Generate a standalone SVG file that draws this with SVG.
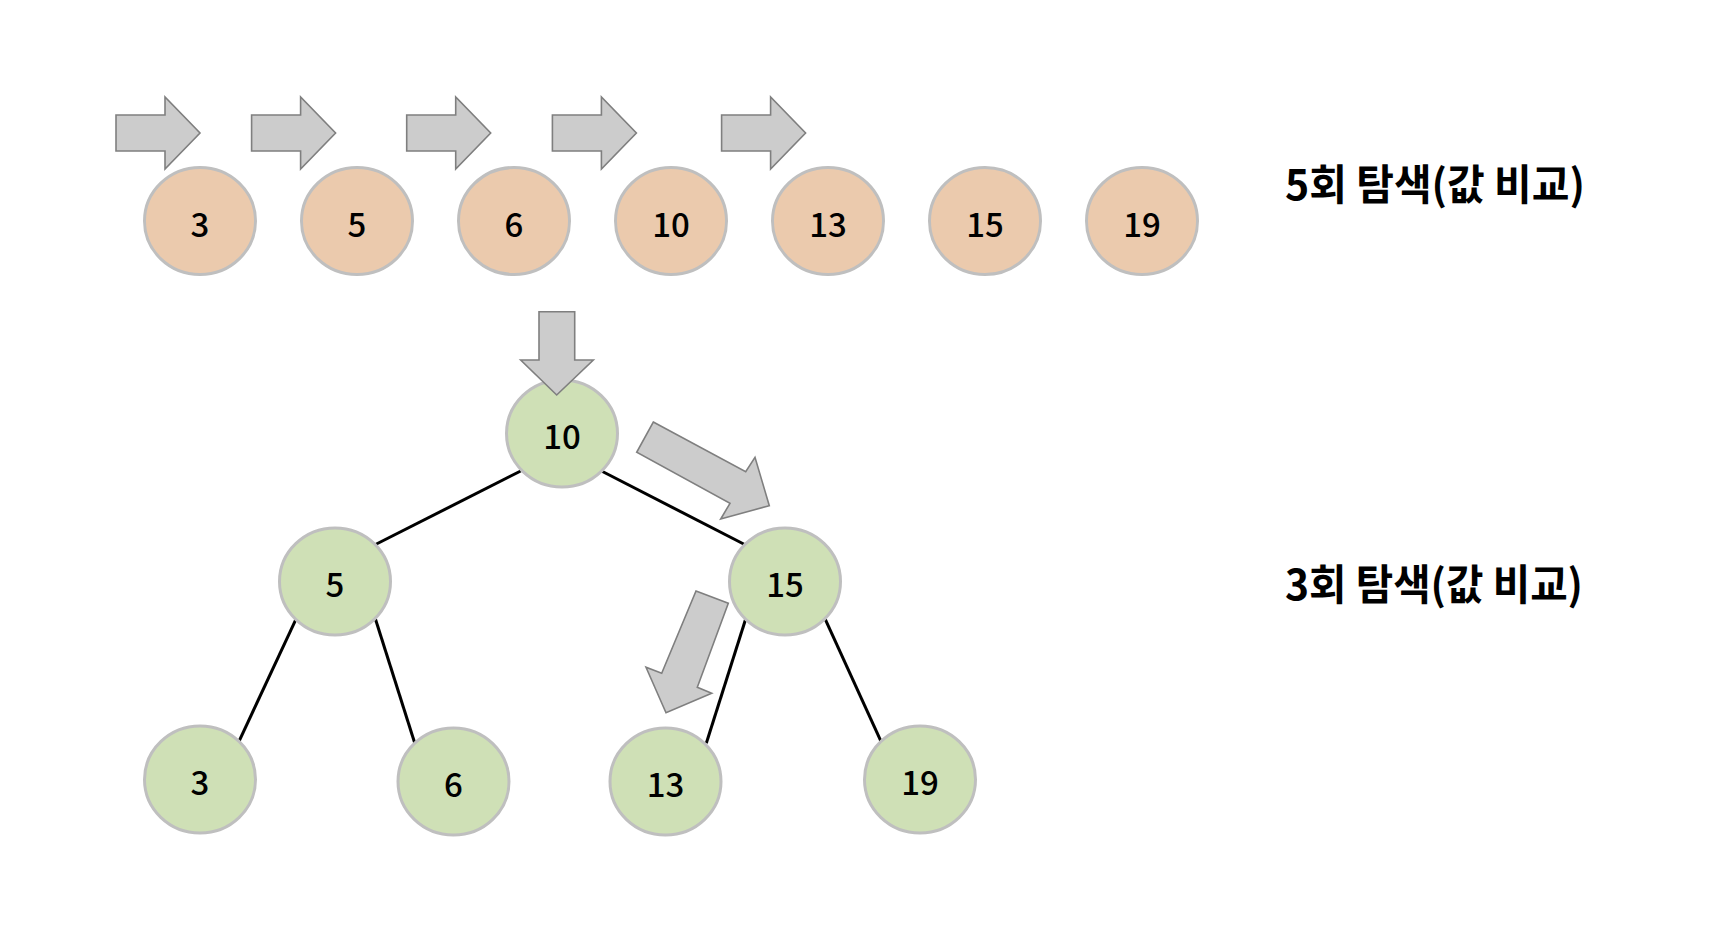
<svg xmlns="http://www.w3.org/2000/svg" xmlns:xlink="http://www.w3.org/1999/xlink" width="1712" height="932" viewBox="0 0 1712 932">
<style>
.peach{fill:#ebcaad;stroke:#bfbfbf;stroke-width:3}
.green{fill:#cfe0b6;stroke:#bfbfbf;stroke-width:3}
.num{font-family:"Noto Sans CJK KR","Noto Sans",sans-serif;font-size:33px;font-weight:500;fill:#000;text-anchor:middle}
.lbl{font-family:"Noto Sans CJK KR","Noto Sans",sans-serif;font-size:42px;font-weight:bold;fill:#000}
.arr{fill:#cccccc;stroke:#7f7f7f;stroke-width:1.6;stroke-linejoin:miter}
.edge{stroke:#000;stroke-width:3;fill:none}
</style>
<defs>
<path id="rarrow" d="M0,18 H49 V0 L84,36 L49,72 V54 H0 Z"/>
</defs>
<rect width="1712" height="932" fill="#fff"/>

<g id="connectors">
<line class="edge" x1="520.7" y1="471" x2="374.5" y2="545"/>
<line class="edge" x1="601.5" y1="471" x2="745.6" y2="545"/>
<line class="edge" x1="295.9" y1="619.3" x2="239" y2="741.3"/>
<line class="edge" x1="375.5" y1="619.3" x2="414.8" y2="743.3"/>
<line class="edge" x1="745.6" y1="619.3" x2="706.3" y2="743.3"/>
<line class="edge" x1="825.3" y1="619.3" x2="881" y2="741.3"/>
</g>

<g id="list">
<g id="l3"><ellipse class="peach" cx="200" cy="221" rx="55.5" ry="53.5"/><text class="num" x="200" y="236.5">3</text></g>
<g id="l5"><ellipse class="peach" cx="357" cy="221" rx="55.5" ry="53.5"/><text class="num" x="357" y="236.5">5</text></g>
<g id="l6"><ellipse class="peach" cx="514" cy="221" rx="55.5" ry="53.5"/><text class="num" x="514" y="236.5">6</text></g>
<g id="l10"><ellipse class="peach" cx="671" cy="221" rx="55.5" ry="53.5"/><text class="num" x="671" y="236.5">10</text></g>
<g id="l13"><ellipse class="peach" cx="828" cy="221" rx="55.5" ry="53.5"/><text class="num" x="828" y="236.5">13</text></g>
<g id="l15"><ellipse class="peach" cx="985" cy="221" rx="55.5" ry="53.5"/><text class="num" x="985" y="236.5">15</text></g>
<g id="l19"><ellipse class="peach" cx="1142" cy="221" rx="55.5" ry="53.5"/><text class="num" x="1142" y="236.5">19</text></g>
</g>

<g id="tree">
<g id="t10"><ellipse class="green" cx="562" cy="433.5" rx="55.5" ry="53.5"/><text class="num" x="562" y="449">10</text></g>
<g id="t5"><ellipse class="green" cx="335" cy="581.5" rx="55.5" ry="53.5"/><text class="num" x="335" y="597">5</text></g>
<g id="t15"><ellipse class="green" cx="785" cy="581.5" rx="55.5" ry="53.5"/><text class="num" x="785" y="597">15</text></g>
<g id="t3"><ellipse class="green" cx="200" cy="779.5" rx="55.5" ry="53.5"/><text class="num" x="200" y="795">3</text></g>
<g id="t6"><ellipse class="green" cx="453.5" cy="781.5" rx="55.5" ry="53.5"/><text class="num" x="453.5" y="797">6</text></g>
<g id="t13"><ellipse class="green" cx="665.5" cy="781.5" rx="55.5" ry="53.5"/><text class="num" x="665.5" y="797">13</text></g>
<g id="t19"><ellipse class="green" cx="920" cy="779.5" rx="55.5" ry="53.5"/><text class="num" x="920" y="795">19</text></g>
</g>

<g id="arrows">
<use href="#rarrow" xlink:href="#rarrow" class="arr" x="116" y="97"/>
<use href="#rarrow" xlink:href="#rarrow" class="arr" x="251.6" y="97"/>
<use href="#rarrow" xlink:href="#rarrow" class="arr" x="406.7" y="97"/>
<use href="#rarrow" xlink:href="#rarrow" class="arr" x="552.4" y="97"/>
<use href="#rarrow" xlink:href="#rarrow" class="arr" x="721.6" y="97"/>
<path class="arr" d="M539,311.7 H574.7 V360 H593.3 L556.7,395 L520.7,360 H539 Z"/>
<path class="arr" d="M653.3,422 L745.7,471.7 L755,457.3 L769.3,505.7 L720.7,519 L730,503.3 L636.7,452.3 Z"/>
<path class="arr" d="M696,591 L728.3,603.3 L697.3,687.3 L711.7,693.3 L666,712.7 L646,667.3 L661.7,673.3 Z"/>
</g>

<g id="labels">
<text class="lbl" x="1285" y="200" textLength="300" lengthAdjust="spacingAndGlyphs">5회 탐색(값 비교)</text>
<text class="lbl" x="1285" y="600" textLength="298" lengthAdjust="spacingAndGlyphs">3회 탐색(값 비교)</text>
</g>
</svg>
